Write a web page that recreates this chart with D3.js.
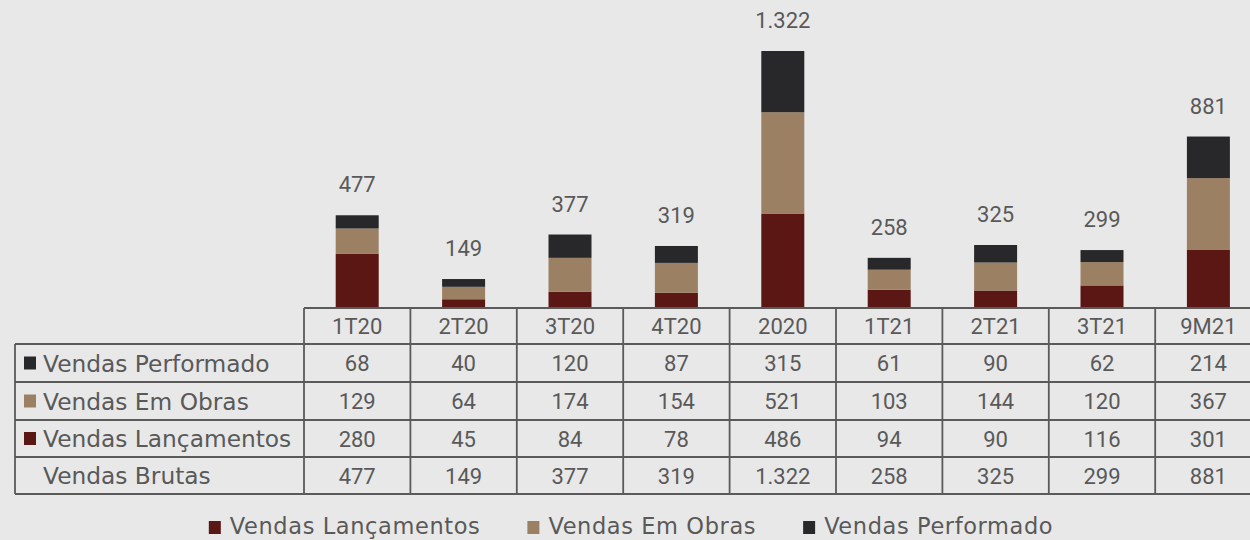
<!DOCTYPE html>
<html>
<head>
<meta charset="utf-8">
<script src="https://cdn.jsdelivr.net/npm/d3@7/dist/d3.min.js"></script>
<style>
  html, body { margin: 0; padding: 0; background: #e8e8e8; overflow: hidden; }
  svg { display: block; }
</style>
</head>
<body>
<svg id="chart" width="1250" height="540"></svg>
<script>
// ---- Data ----
const categories = ["1T20", "2T20", "3T20", "4T20", "2020", "1T21", "2T21", "3T21", "9M21"];
const lancamentos = [280, 45, 84, 78, 486, 94, 90, 116, 301];
const emObras     = [129, 64, 174, 154, 521, 103, 144, 120, 367];
const performado  = [68, 40, 120, 87, 315, 61, 90, 62, 214];
const brutas      = [477, 149, 377, 319, 1322, 258, 325, 299, 881];
const seriesNames = ["Vendas Lançamentos", "Vendas Em Obras", "Vendas Performado"];
const seriesColors = ["#5b1714", "#9c8064", "#28282a"];
const titleText = "(R$ milhões)";

const fmt = v => d3.format(",")(v).replace(/,/g, ".");

// ---- Layout ----
const svg = d3.select("#chart");
const W = 1250, H = 540;
svg.append("rect").attr("width", W).attr("height", H).attr("fill", "#e8e8e8");

const tableLeft = 15, colStart = 304, colW = 106.4;
const baseY = 308;
const rowEdges = [308, 344, 382, 420, 457, 494];
const lineColor = "#5a5a5a", textColor = "#595959";
const numFont = "Roboto, 'Liberation Sans', sans-serif";
const labFont = "'DejaVu Sans', sans-serif";

const x = d3.scaleBand().domain(categories)
  .range([colStart, colStart + colW * categories.length])
  .paddingInner(0).paddingOuter(0);
const y = d3.scaleLinear().domain([0, d3.max(brutas)]).range([baseY, 51]);
const barW = 43;

// title (mostly above the visible area, as in the reference)
svg.append("text").attr("x", 745).attr("y", -3)
  .attr("text-anchor", "middle").attr("font-family", labFont)
  .attr("font-size", 22).attr("fill", textColor).text(titleText);

// ---- Stacked bars ----
const rows = categories.map((c, i) => ({
  cat: c, l: lancamentos[i], o: emObras[i], p: performado[i]
}));
const stack = d3.stack().keys(["l", "o", "p"])(rows);
const g = svg.append("g");
g.selectAll("g.layer").data(stack).join("g")
  .attr("class", "layer")
  .attr("fill", (d, i) => seriesColors[i])
  .selectAll("rect").data(d => d).join("rect")
  .attr("x", d => x(d.data.cat) + x.bandwidth() / 2 - barW / 2)
  .attr("width", barW)
  .attr("y", d => y(d[1]))
  .attr("height", d => y(d[0]) - y(d[1]));

// totals above bars
g.selectAll("text.total").data(categories).join("text")
  .attr("class", "total")
  .attr("x", c => x(c) + x.bandwidth() / 2)
  .attr("y", (c, i) => y(brutas[i]) - 23)
  .attr("text-anchor", "middle")
  .attr("font-family", numFont).attr("font-size", 22)
  .attr("fill", textColor)
  .text((c, i) => fmt(brutas[i]));

// ---- Data table ----
const t = svg.append("g");
const right = colStart + colW * categories.length;
t.append("line").attr("x1", colStart).attr("x2", right)
  .attr("y1", rowEdges[0]).attr("y2", rowEdges[0]);
for (let r = 1; r < rowEdges.length; r++) {
  t.append("line").attr("x1", tableLeft).attr("x2", right)
    .attr("y1", rowEdges[r]).attr("y2", rowEdges[r]);
}
t.append("line").attr("x1", tableLeft).attr("x2", tableLeft)
  .attr("y1", rowEdges[1]).attr("y2", rowEdges[rowEdges.length - 1]);
for (let c = 0; c <= categories.length; c++) {
  const xx = colStart + colW * c;
  t.append("line").attr("x1", xx).attr("x2", xx)
    .attr("y1", rowEdges[0]).attr("y2", rowEdges[rowEdges.length - 1]);
}
t.selectAll("line").attr("stroke", lineColor).attr("stroke-width", 1.8);

// header labels
t.selectAll("text.hdr").data(categories).join("text")
  .attr("class", "hdr")
  .attr("x", c => x(c) + x.bandwidth() / 2)
  .attr("y", (rowEdges[0] + rowEdges[1]) / 2 + 8)
  .attr("text-anchor", "middle")
  .attr("font-family", numFont).attr("font-size", 22)
  .attr("fill", textColor).text(c => c);

const tableRows = [
  { name: "Vendas Performado", values: performado, color: seriesColors[2] },
  { name: "Vendas Em Obras", values: emObras, color: seriesColors[1] },
  { name: "Vendas Lançamentos", values: lancamentos, color: seriesColors[0] },
  { name: "Vendas Brutas", values: brutas, color: null }
];
tableRows.forEach((row, r) => {
  const cy = (rowEdges[r + 1] + rowEdges[r + 2]) / 2;
  if (row.color) {
    t.append("rect").attr("x", 24).attr("y", cy - 6.5)
      .attr("width", 12).attr("height", 13).attr("fill", row.color);
  }
  t.append("text").attr("x", 43).attr("y", cy + 8.5)
    .attr("font-family", labFont).attr("font-size", 23.3)
    .attr("fill", textColor).text(row.name);
  t.selectAll(null).data(row.values).join("text")
    .attr("x", (v, i) => x(categories[i]) + x.bandwidth() / 2)
    .attr("y", cy + 8)
    .attr("text-anchor", "middle")
    .attr("font-family", numFont).attr("font-size", 22)
    .attr("fill", textColor).text(v => fmt(v));
});

// ---- Legend ----
const leg = svg.append("g");
const items = seriesNames.map((n, i) => ({ name: n, color: seriesColors[i] }));
let cursor = 0;
items.forEach(it => {
  const ig = leg.append("g");
  ig.append("rect").attr("x", 0).attr("y", -13).attr("width", 12).attr("height", 13)
    .attr("fill", it.color);
  const tx = ig.append("text").attr("x", 21).attr("y", 0)
    .attr("font-family", labFont).attr("font-size", 22.5)
    .attr("letter-spacing", 0.6)
    .attr("fill", textColor).text(it.name);
  const w = 21 + tx.node().getComputedTextLength();
  ig.attr("transform", `translate(${cursor},534)`);
  cursor += w + 47;
});
const totalW = cursor - 47;
leg.attr("transform", `translate(${631 - totalW / 2},0)`);
</script>
</body>
</html>
